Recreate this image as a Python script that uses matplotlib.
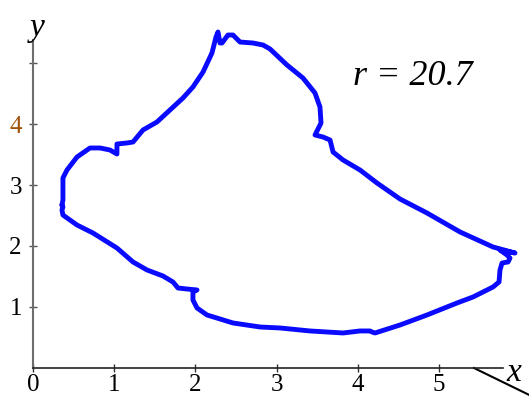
import matplotlib
matplotlib.use("Agg")
import matplotlib.pyplot as plt

# closed path traced clockwise from the left edge
path_x = [0.357, 0.369, 0.369, 0.419, 0.542, 0.702, 0.825, 0.948, 1.034, 1.034,
          1.158, 1.232, 1.355, 1.527, 1.687, 1.847, 1.970, 2.094, 2.204, 2.254,
          2.278, 2.303, 2.328, 2.401, 2.463, 2.549, 2.709, 2.833, 2.919, 3.128,
          3.325, 3.473, 3.534, 3.547, 3.473, 3.571, 3.658, 3.695, 3.818, 4.027,
          4.236, 4.520, 4.852, 5.259, 5.665, 5.936, 5.751, 5.837, 5.874, 5.850,
          5.776, 5.751, 5.739, 5.665, 5.419, 5.222, 4.852, 4.520, 4.212, 4.175,
          4.150, 4.027, 3.818, 3.411, 3.042, 2.796, 2.463, 2.143, 2.020, 1.970,
          1.970, 2.020, 1.897, 1.786, 1.724, 1.601, 1.404, 1.232, 1.034, 0.739,
          0.542, 0.369, 0.357, 0.369, 0.357]
path_y = [2.672, 2.754, 3.115, 3.246, 3.459, 3.607, 3.607, 3.574, 3.508, 3.672,
          3.689, 3.705, 3.902, 4.033, 4.230, 4.426, 4.607, 4.852, 5.164, 5.426,
          5.508, 5.328, 5.328, 5.459, 5.459, 5.344, 5.328, 5.295, 5.230, 4.967,
          4.754, 4.508, 4.279, 4.016, 3.820, 3.787, 3.738, 3.541, 3.410, 3.246,
          3.033, 2.770, 2.541, 2.230, 1.984, 1.885, 1.934, 1.852, 1.803, 1.738,
          1.721, 1.607, 1.410, 1.328, 1.164, 1.066, 0.869, 0.705, 0.574, 0.590,
          0.607, 0.607, 0.574, 0.607, 0.656, 0.672, 0.738, 0.869, 0.984, 1.115,
          1.246, 1.279, 1.295, 1.311, 1.410, 1.508, 1.607, 1.738, 1.967, 2.213,
          2.344, 2.508, 2.590, 2.639, 2.672]

x_ticks = [0, 1, 2, 3, 4, 5]
y_ticks = [1, 2, 3, 4, 5]
y_labels = ["1", "2", "3", "4", ""]
r_value = 20.7

serif = ["Liberation Serif", "DejaVu Serif"]

fig = plt.figure(figsize=(5.29, 3.98), dpi=100)
ax = fig.add_axes([0, 0, 1, 1])
ax.set_xlim(-0.406, 6.108)
ax.set_ylim(-0.492, 6.033)

ax.plot(path_x, path_y, color="#0a0aff", lw=3.5, solid_joinstyle="round",
        solid_capstyle="round")

# axes drawn through the origin
for s in ["top", "right"]:
    ax.spines[s].set_visible(False)
ax.spines["left"].set_position(("data", 0))
ax.spines["bottom"].set_position(("data", 0))
ax.spines["left"].set_bounds(0, 5.38)
ax.spines["bottom"].set_bounds(0, 5.79)
ax.spines["left"].set_color("#6e6e6e")
ax.spines["bottom"].set_color("#222222")
ax.spines["left"].set_linewidth(1.5)
ax.spines["bottom"].set_linewidth(1.2)

ax.set_xticks(x_ticks)
ax.set_xticklabels([str(t) for t in x_ticks])
ax.set_yticks(y_ticks)
ax.set_yticklabels(y_labels)
ax.tick_params(axis="x", direction="inout", length=6, width=1, color="#333333",
               pad=1.5, labelsize=18)
ax.tick_params(axis="y", direction="inout", length=6, width=1, color="#555555",
               pad=5, labelsize=18)
for lab in ax.get_xticklabels() + ax.get_yticklabels():
    lab.set_fontfamily(serif)
    lab.set_fontsize(18)
ax.get_yticklabels()[3].set_color("#a0520a")

ax.text(0.05, 5.57, "y", family=serif, style="italic", fontsize=24,
        ha="center", va="center")
ax.text(5.92, -0.07, "x", family=serif, style="italic", fontsize=24,
        ha="center", va="center")
ax.plot([5.43, 6.2], [0, -0.5], color="black", lw=1.5, clip_on=False)

ax.text(4.68, 4.78, f"r = {r_value}", family=serif, style="italic", fontsize=26,
        ha="center", va="center")

fig.savefig("out.png", dpi=100)
